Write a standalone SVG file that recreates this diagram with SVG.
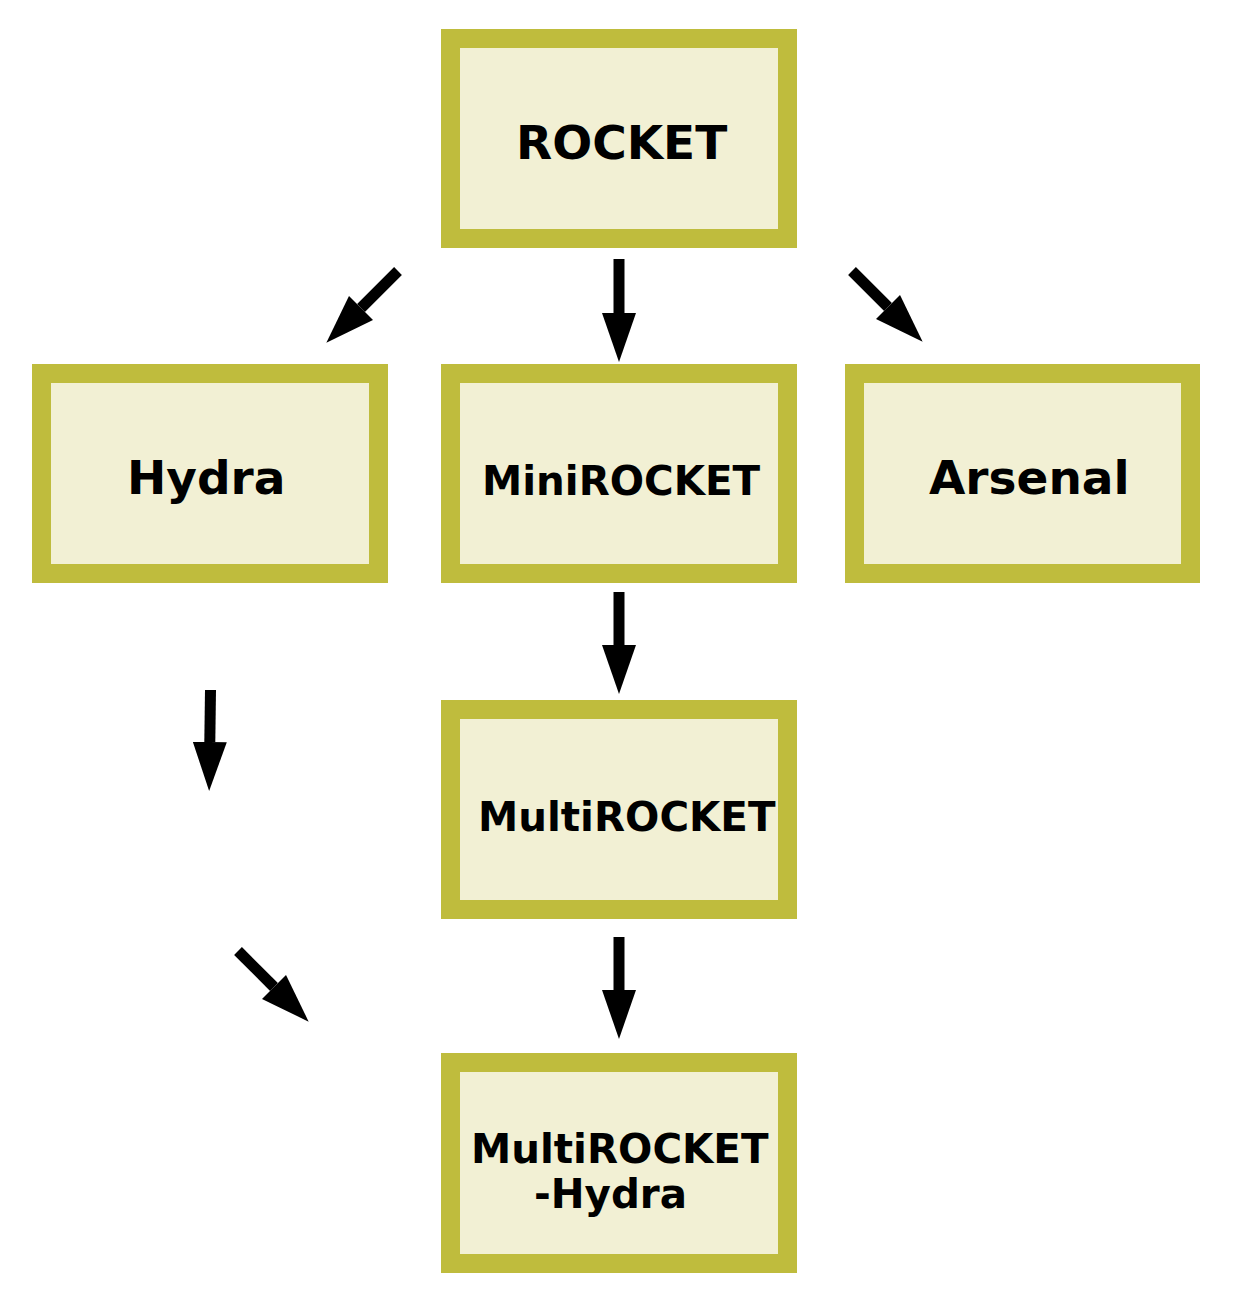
<svg xmlns="http://www.w3.org/2000/svg" width="1242" height="1302" viewBox="0 0 1242 1302">
<style>
.box{fill:#f2f0d4;stroke:#bfbc3d;stroke-width:19}
.lbl{font-family:"DejaVu Sans",sans-serif;font-weight:bold;fill:#000}
.big{font-size:47px}
.sm{font-size:40.4px}
.edge{stroke:#000;stroke-width:11;fill:none;marker-end:url(#ah)}
</style>
<defs>
<marker id="ah" markerUnits="userSpaceOnUse" markerWidth="50" markerHeight="36" refX="0" refY="17" orient="auto" viewBox="0 0 50 34">
<path d="M0,0 L49,17 L0,34 z" fill="#000"/>
</marker>
</defs>
<rect width="1242" height="1302" fill="#fff"/>
<g id="rocket"><rect class="box" x="450.5" y="38.5" width="337" height="200"/><text class="lbl big" x="516" y="159">ROCKET</text></g>
<g id="hydra"><rect class="box" x="41.5" y="373.5" width="337" height="200"/><text class="lbl big" x="127" y="494">Hydra</text></g>
<g id="minirocket"><rect class="box" x="450.5" y="373.5" width="337" height="200"/><text class="lbl sm" x="482" y="495">MiniROCKET</text></g>
<g id="arsenal"><rect class="box" x="854.5" y="373.5" width="336" height="200"/><text class="lbl big" x="929" y="494">Arsenal</text></g>
<g id="multirocket"><rect class="box" x="450.5" y="709.5" width="337" height="200"/><text class="lbl sm" x="478" y="831">MultiROCKET</text></g>
<g id="multirocket-hydra"><rect class="box" x="450.5" y="1062.5" width="337" height="201"/><text class="lbl sm" x="471" y="1163">MultiROCKET</text><text class="lbl sm" x="534" y="1208">-Hydra</text></g>
<g id="connectors">
<line class="edge" x1="619" y1="259" x2="619" y2="313"/>
<line class="edge" x1="398" y1="271" x2="361" y2="308"/>
<line class="edge" x1="852" y1="271" x2="888" y2="307"/>
<line class="edge" x1="619" y1="592" x2="619" y2="645"/>
<line class="edge" x1="210.5" y1="690" x2="209.8" y2="742"/>
<line class="edge" x1="619" y1="937" x2="619" y2="990"/>
<line class="edge" x1="238" y1="951" x2="274" y2="987"/>
</g>
</svg>
